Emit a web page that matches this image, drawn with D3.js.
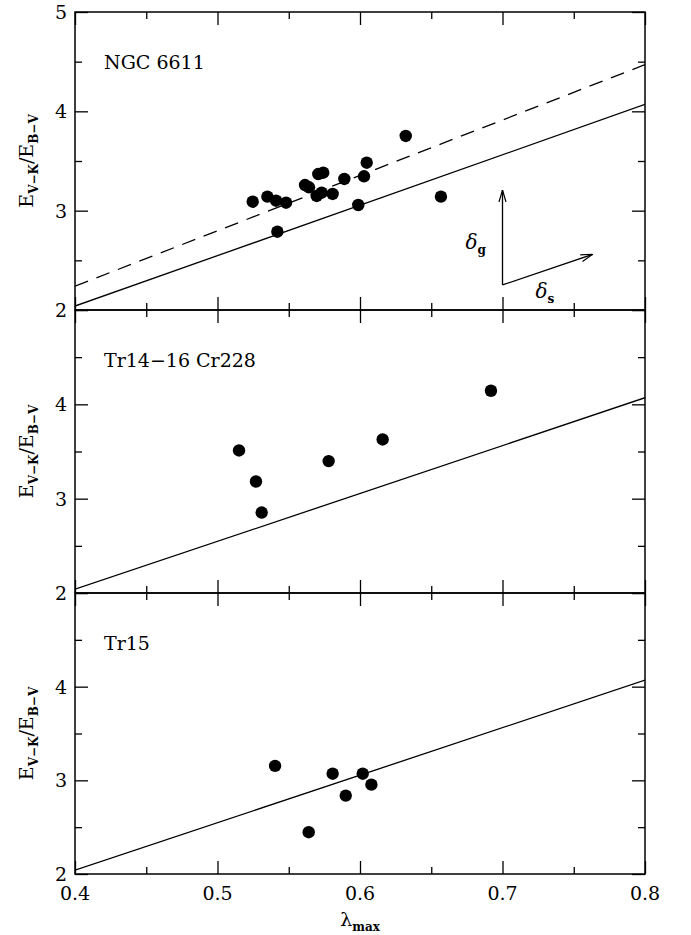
<!DOCTYPE html>
<html>
<head>
<meta charset="utf-8">
<script src="https://cdn.jsdelivr.net/npm/d3@7"></script>
<style>
  html, body { margin: 0; padding: 0; background: #fff; }
  svg { display: block; }
  text { font-family: "DejaVu Serif", "Liberation Serif", serif; fill: #000; }
</style>
</head>
<body>
<script>
// ---------------- data ----------------
const panelNames = ["NGC 6611", "Tr14\u221216 Cr228", "Tr15"];

const ngc6611X = [0.5247, 0.5350, 0.5411, 0.5481, 0.5420, 0.5614, 0.5642, 0.5707, 0.5742, 0.5696, 0.5731, 0.5808, 0.5890, 0.5988, 0.6028, 0.6047, 0.6321, 0.6568];
const ngc6611Y = [3.090, 3.141, 3.100, 3.080, 2.788, 3.258, 3.235, 3.369, 3.382, 3.148, 3.181, 3.168, 3.319, 3.057, 3.346, 3.483, 3.752, 3.141];

const tr14X = [0.5151, 0.5270, 0.5310, 0.5780, 0.6159, 0.6919];
const tr14Y = [3.511, 3.182, 2.853, 3.398, 3.628, 4.144];

const tr15X = [0.5404, 0.5640, 0.5808, 0.5900, 0.6019, 0.6080];
const tr15Y = [3.154, 2.446, 3.071, 2.837, 3.071, 2.954];

// solid reference relation (all panels) and dashed fit (NGC 6611)
const solidLineX = [0.4, 0.8];
const solidLineY = [2.04, 4.07];
const dashedLineX = [0.4, 0.8];
const dashedLineY = [2.24, 4.47];

// arrows (NGC 6611 panel): origin, delta_g tip, delta_s tip
const arrowOrigin = [0.700, 2.252];
const arrowG = [0.700, 3.208];
const arrowS = [0.7633, 2.561];

const xDomain = [0.4, 0.8];
const yDomain = [2, 5];
const xMajorTicks = [0.4, 0.5, 0.6, 0.7, 0.8];
const xMinorTicks = [0.45, 0.55, 0.65, 0.75];
const yMajorTicks = [2, 3, 4, 5];
const yMinorTicks = [2.5, 3.5, 4.5];
const yLabelTicksTop = [2, 3, 4, 5];
const yLabelTicksOther = [2, 3, 4];

// ---------------- layout ----------------
const W = 691, H = 935;
const left = 75, right = 645;
const panelBounds = [[12, 310], [310, 593], [593, 874]];

const svg = d3.select("body").append("svg").attr("width", W).attr("height", H);
const x = d3.scaleLinear().domain(xDomain).range([left, right]);

const panelData = [
  {name: panelNames[0], xs: ngc6611X, ys: ngc6611Y, dashed: true, arrows: true},
  {name: panelNames[1], xs: tr14X, ys: tr14Y, dashed: false, arrows: false},
  {name: panelNames[2], xs: tr15X, ys: tr15Y, dashed: false, arrows: false}
];

// arrow marker
const defs = svg.append("defs");
defs.append("marker").attr("id", "openArrow")
  .attr("viewBox", "0 -5 12 10").attr("refX", 12).attr("refY", 0)
  .attr("markerWidth", 12).attr("markerHeight", 10).attr("markerUnits", "userSpaceOnUse")
  .attr("orient", "auto")
  .append("path").attr("d", "M0,-3.5 L12,0 L0,3.5").attr("fill", "none").attr("stroke", "#000").attr("stroke-width", 1.2);

panelData.forEach((p, i) => {
  const [top, bottom] = panelBounds[i];
  const y = d3.scaleLinear().domain(yDomain).range([bottom, top]);
  const g = svg.append("g");

  const clipId = "clip" + i;
  defs.append("clipPath").attr("id", clipId).append("rect")
    .attr("x", left).attr("y", top).attr("width", right - left).attr("height", bottom - top);

  const lineGen = d3.line().x(d => x(d[0])).y(d => y(d[1]));
  const plot = g.append("g").attr("clip-path", `url(#${clipId})`);

  plot.append("path").datum(d3.zip(solidLineX, solidLineY))
    .attr("d", lineGen).attr("fill", "none").attr("stroke", "#000").attr("stroke-width", 1.3);
  if (p.dashed) {
    plot.append("path").datum(d3.zip(dashedLineX, dashedLineY))
      .attr("d", lineGen).attr("fill", "none").attr("stroke", "#000").attr("stroke-width", 1.3)
      .attr("stroke-dasharray", "14,9");
  }

  plot.selectAll("circle").data(d3.zip(p.xs, p.ys)).enter().append("circle")
    .attr("cx", d => x(d[0])).attr("cy", d => y(d[1])).attr("r", 6.2).attr("fill", "#000");

  // axes: major & minor ticks on all four sides, inward
  const mk = (axisFn, scale, vals, size, tr) => {
    const a = axisFn(scale).tickValues(vals).tickSize(size).tickSizeOuter(0).tickFormat("");
    const ag = g.append("g").attr("transform", tr).call(a);
    ag.select(".domain").remove();
    ag.selectAll("line").attr("stroke", "#000").attr("stroke-width", 1.3);
    return ag;
  };
  mk(d3.axisBottom, x, xMajorTicks, -13, `translate(0,${bottom})`);
  mk(d3.axisBottom, x, xMinorTicks, -7, `translate(0,${bottom})`);
  mk(d3.axisTop, x, xMajorTicks, -13, `translate(0,${top})`);
  mk(d3.axisTop, x, xMinorTicks, -7, `translate(0,${top})`);
  mk(d3.axisLeft, y, yMajorTicks, -13, `translate(${left},0)`);
  mk(d3.axisLeft, y, yMinorTicks, -7, `translate(${left},0)`);
  mk(d3.axisRight, y, yMajorTicks, -13, `translate(${right},0)`);
  mk(d3.axisRight, y, yMinorTicks, -7, `translate(${right},0)`);

  // frame
  g.append("rect").attr("x", left).attr("y", top).attr("width", right - left).attr("height", bottom - top)
    .attr("fill", "none").attr("stroke", "#000").attr("stroke-width", 1.5);

  // y tick labels
  const yl = i === 0 ? yLabelTicksTop : yLabelTicksOther;
  g.selectAll("text.ytl").data(yl).enter().append("text")
    .attr("class", "ytl").attr("x", left - 8).attr("y", d => y(d)).attr("dy", "0.36em")
    .attr("text-anchor", "end").attr("font-size", 19).text(d => d3.format("d")(d));

  // x tick labels on bottom panel
  if (i === panelData.length - 1) {
    g.selectAll("text.xtl").data(xMajorTicks).enter().append("text")
      .attr("class", "xtl").attr("x", d => x(d)).attr("y", bottom + 26)
      .attr("text-anchor", "middle").attr("font-size", 19).text(d => d3.format(".1f")(d));
    const xt = g.append("text").attr("x", x(0.6)).attr("y", bottom + 52)
      .attr("text-anchor", "middle").attr("font-size", 19);
    xt.append("tspan").text("\u03bb");
    xt.append("tspan").attr("font-size", 12).attr("font-weight", "bold").attr("dy", 5).text("max");
  }

  // panel name
  g.append("text").attr("x", 104).attr("y", top + 57).attr("font-size", 19).text(p.name);

  // y title
  const cy = (top + bottom) / 2;
  const t = g.append("text").attr("transform", `translate(33,${cy}) rotate(-90)`)
    .attr("text-anchor", "middle").attr("font-size", 19);
  t.append("tspan").text("E");
  t.append("tspan").attr("font-size", 12).attr("font-weight", "bold").attr("dy", 5).text("V\u2212K");
  t.append("tspan").attr("dy", -5).text("/E");
  t.append("tspan").attr("font-size", 12).attr("font-weight", "bold").attr("dy", 5).text("B\u2212V");

  if (p.arrows) {
    g.append("line").attr("x1", x(arrowOrigin[0])).attr("y1", y(arrowOrigin[1]))
      .attr("x2", x(arrowG[0])).attr("y2", y(arrowG[1]))
      .attr("stroke", "#000").attr("stroke-width", 1.3).attr("marker-end", "url(#openArrow)");
    g.append("line").attr("x1", x(arrowOrigin[0])).attr("y1", y(arrowOrigin[1]))
      .attr("x2", x(arrowS[0])).attr("y2", y(arrowS[1]))
      .attr("stroke", "#000").attr("stroke-width", 1.3).attr("marker-end", "url(#openArrow)");
    const dg = g.append("text").attr("x", x(arrowOrigin[0]) - 37).attr("y", y(arrowOrigin[1]) - 36)
      .attr("font-size", 20);
    dg.append("tspan").attr("font-style", "italic").text("\u03b4");
    dg.append("tspan").attr("font-size", 12).attr("font-weight", "bold").attr("dy", 5).text("g");
    const ds = g.append("text").attr("x", x(arrowOrigin[0]) + 33).attr("y", y(arrowOrigin[1]) + 13)
      .attr("font-size", 20);
    ds.append("tspan").attr("font-style", "italic").text("\u03b4");
    ds.append("tspan").attr("font-size", 12).attr("font-weight", "bold").attr("dy", 5).text("s");
  }
});
</script>
</body>
</html>
